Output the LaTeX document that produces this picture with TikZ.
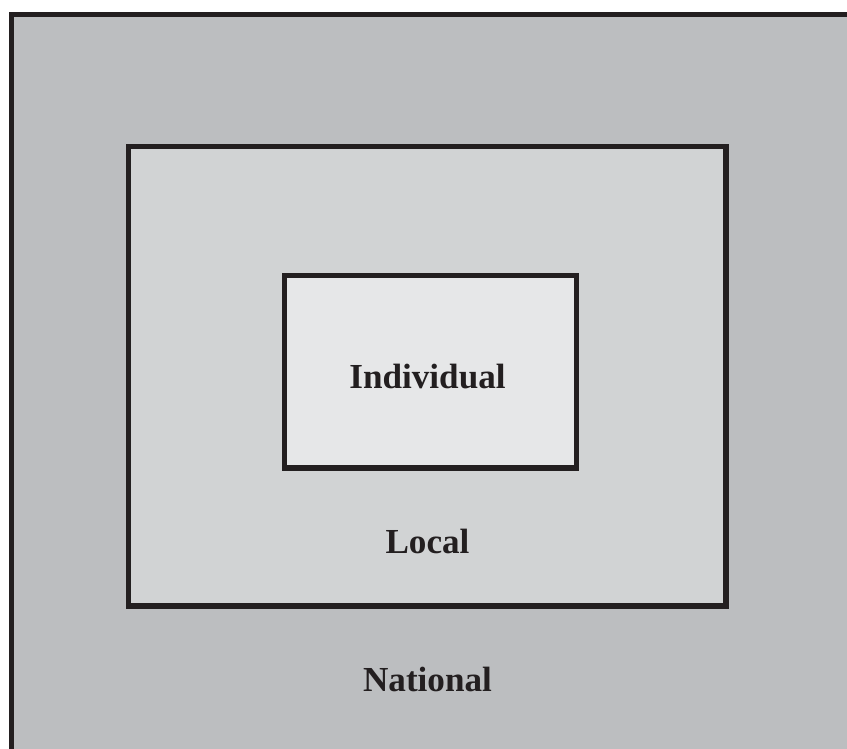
\documentclass[tikz,border=0pt]{standalone}
\usepackage{fontspec}
\setmainfont{Liberation Serif}
\definecolor{nationalgray}{RGB}{188,190,192}
\definecolor{localgray}{RGB}{209,211,212}
\definecolor{individualgray}{RGB}{230,231,232}
\definecolor{framedark}{RGB}{35,31,32}
\tikzset{
  level/.style={draw=framedark, line width=2.9pt, line join=miter},
  levellabel/.style={anchor=base, inner sep=0pt, text=framedark,
    font=\fontsize{20}{22}\selectfont\bfseries}
}
\begin{document}
\begin{tikzpicture}[x=0.02cm, y=-0.02cm]
  \useasboundingbox (0,0) rectangle (847,748);
  \clip (0,0) rectangle (847,748);
  % nested levels
  \draw[level, fill=nationalgray] (11.5,14.5) rectangle (870,770);
  \draw[level, fill=localgray] (128.5,146.5) rectangle (726,606);
  \draw[level, fill=individualgray] (284.5,275.5) rectangle (576.5,468);
  % labels
  \draw
    (427.5,388) node[levellabel] (individual){Individual}
    (427.5,553) node[levellabel] (local){Local}
    (427.5,691) node[levellabel] (national){National};
\end{tikzpicture}
\end{document}
